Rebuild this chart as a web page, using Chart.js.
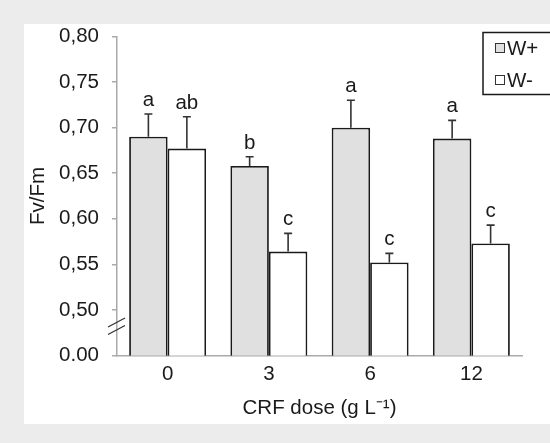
<!DOCTYPE html>
<html>
<head>
<meta charset="utf-8">
<script src="https://cdn.jsdelivr.net/npm/chart.js@4"></script>
<style>
  html, body { margin: 0; padding: 0; background: #ececec; }
  #wrap { width: 550px; height: 443px; }
</style>
</head>
<body>
<div id="wrap"><canvas id="miGrafico" width="550" height="443"></canvas></div>
<script>
var doses = ['0', '3', '6', '12'];
var seriesNames = ['W+', 'W-'];
var wPlus = [0.690, 0.658, 0.700, 0.688];
var wMinus = [0.677, 0.564, 0.552, 0.573];
var errPlus = [0.025, 0.010, 0.030, 0.020];
var errMinus = [0.035, 0.020, 0.010, 0.020];
var lettersPlus = ['a', 'b', 'a', 'a'];
var lettersMinus = ['ab', 'c', 'c', 'c'];
var yTicks = [0.45, 0.50, 0.55, 0.60, 0.65, 0.70, 0.75, 0.80];

var fontFam = '"Liberation Sans", Arial, sans-serif';
var fSize = 20.5;
var ink = '#1a1a1a';

// white panel behind the plot
var panel = {
  id: 'panel',
  beforeDraw: function(chart) {
    var c = chart.ctx;
    c.save();
    c.fillStyle = '#ececec';
    c.fillRect(0, 0, chart.width, chart.height);
    c.fillStyle = '#ffffff';
    c.fillRect(24, 24, chart.width - 24, 400);
    c.restore();
  }
};

// error bars, letters, axis break and boxed legend
var extras = {
  id: 'extras',
  afterDatasetsDraw: function(chart) {
    var c = chart.ctx;
    var y = chart.scales.y;
    var errs = [errPlus, errMinus];
    var lets = [lettersPlus, lettersMinus];
    c.save();
    chart.data.datasets.forEach(function(ds, di) {
      var meta = chart.getDatasetMeta(di);
      meta.data.forEach(function(bar, i) {
        var x = bar.x;
        var yTop = y.getPixelForValue(ds.data[i] + errs[di][i]);
        c.strokeStyle = '#333';
        c.lineWidth = 1.6;
        c.beginPath();
        c.moveTo(x, bar.y);
        c.lineTo(x, yTop);
        c.moveTo(x - 4, yTop);
        c.lineTo(x + 4, yTop);
        c.stroke();
        c.fillStyle = ink;
        c.font = fSize + 'px ' + fontFam;
        c.textAlign = 'center';
        c.textBaseline = 'alphabetic';
        c.fillText(lets[di][i], x, yTop - 8);
      });
    });

    // axis break marks
    var ax = chart.scales.x.left;
    c.strokeStyle = '#333';
    c.lineWidth = 1.3;
    c.beginPath();
    c.moveTo(ax - 9, 327); c.lineTo(ax + 8, 318);
    c.moveTo(ax - 9, 334.5); c.lineTo(ax + 8, 325.5);
    c.stroke();

    // legend box
    c.strokeStyle = ink;
    c.lineWidth = 1.5;
    c.strokeRect(483, 32.5, 70, 62);
    var fills = ['#e0e0e0', '#ffffff'];
    var rows = [48, 80];
    c.font = fSize + 'px ' + fontFam;
    c.textAlign = 'left';
    c.textBaseline = 'middle';
    chart.data.datasets.forEach(function(ds, di) {
      c.fillStyle = fills[di];
      c.fillRect(495, rows[di] - 5, 10, 10);
      c.strokeStyle = '#333';
      c.lineWidth = 1;
      c.strokeRect(495.5, rows[di] - 4.5, 9, 9);
      c.fillStyle = ink;
      c.fillText(ds.label, 507, rows[di] + 1);
    });
    c.restore();
  }
};

var ctx = document.getElementById('miGrafico').getContext('2d');

var data = {
  labels: doses,
  datasets: [{
    label: seriesNames[0],
    data: wPlus,
    backgroundColor: '#e0e0e0',
    borderColor: ink,
    borderWidth: 1.8
  }, {
    label: seriesNames[1],
    data: wMinus,
    backgroundColor: '#ffffff',
    borderColor: ink,
    borderWidth: 1.8
  }]
};

var options = {
  responsive: false,
  animation: false,
  devicePixelRatio: 1,
  layout: { padding: { left: 0, right: 28, top: 36.5, bottom: 19 } },
  plugins: { legend: { display: false }, tooltip: { enabled: false } },
  datasets: { bar: { categoryPercentage: 0.76, barPercentage: 1.0 } },
  scales: {
    x: {
      grid: { display: false, drawTicks: false },
      border: { display: true, color: '#aaa', width: 1.5 },
      ticks: { color: ink, font: { size: fSize, family: fontFam }, padding: 7 },
      title: {
        display: true,
        text: 'CRF dose (g L\u207B\u00B9)',
        color: ink,
        font: { size: fSize, family: fontFam },
        padding: { top: 0, bottom: 3 }
      },
      afterFit: function(s) { s.height = 68.5; }
    },
    y: {
      min: 0.45,
      max: 0.80,
      afterBuildTicks: function(s) {
        s.ticks = yTicks.map(function(v) { return { value: v }; });
      },
      grid: { drawOnChartArea: false, drawTicks: true, tickLength: 5, color: '#aaa', lineWidth: 1.5 },
      border: { display: true, color: '#aaa', width: 1.5 },
      ticks: {
        color: ink,
        font: { size: fSize, family: fontFam },
        padding: 13,
        callback: function(v) {
          if (Math.abs(v - 0.45) < 1e-6) return '0.00';
          return v.toFixed(2).replace('.', ',');
        }
      },
      title: {
        display: true,
        text: 'Fv/Fm',
        color: ink,
        font: { size: fSize, family: fontFam },
        padding: { top: 26, bottom: 0 }
      },
      afterFit: function(s) { s.width = 117; }
    }
  }
};

var miGrafico = new Chart(ctx, {
  type: 'bar',
  data: data,
  options: options,
  plugins: [panel, extras]
});
</script>
</body>
</html>
